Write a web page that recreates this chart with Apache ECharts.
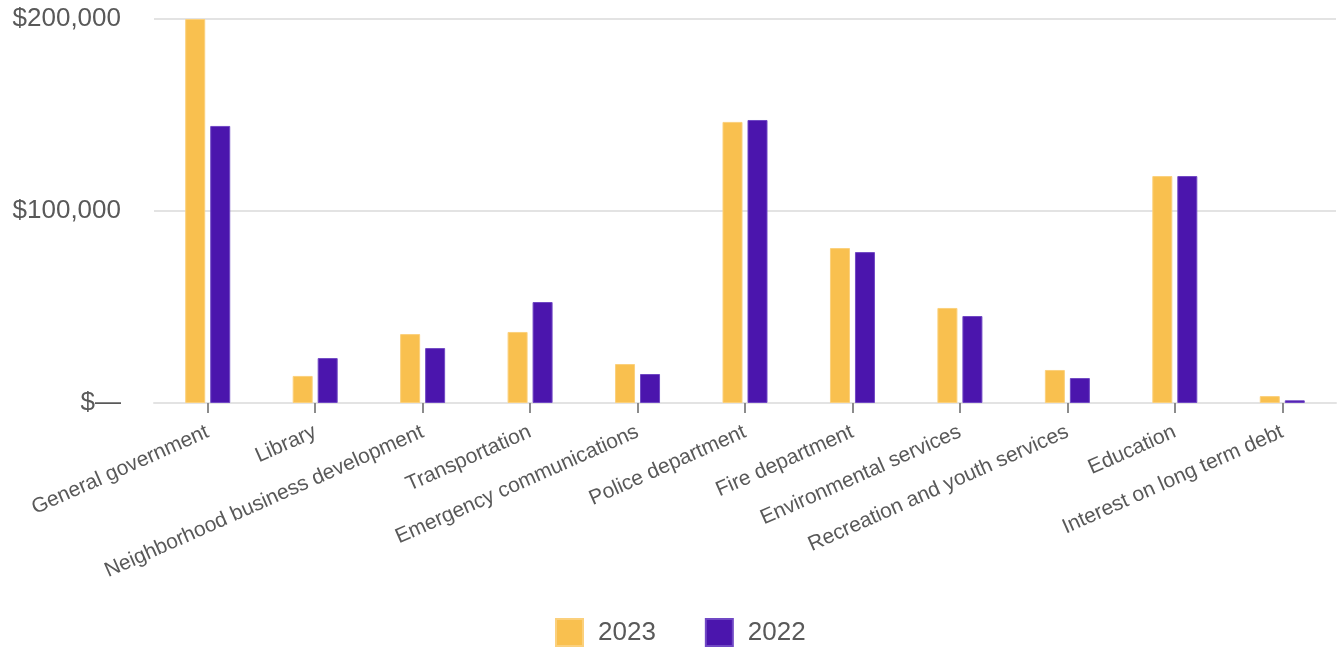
<!DOCTYPE html>
<html>
<head>
<meta charset="utf-8">
<script src="https://cdn.jsdelivr.net/npm/echarts@6/dist/echarts.min.js"></script>
<style>
  html, body { margin: 0; padding: 0; background: #ffffff; }
  #chart { width: 1342px; height: 647px; }
</style>
</head>
<body>
<div id="chart"></div>
<script>
// Expenses by function, two fiscal years
const categories = [
  'General government',
  'Library',
  'Neighborhood business development',
  'Transportation',
  'Emergency communications',
  'Police department',
  'Fire department',
  'Environmental services',
  'Recreation and youth services',
  'Education',
  'Interest on long term debt'
];
const seriesNames = ['2023', '2022'];
const values2023 = [200000, 14100, 35900, 37000, 20300, 146400, 80700, 49500, 17200, 118200, 3600];
const values2022 = [144300, 23400, 28600, 52600, 15100, 147400, 78600, 45300, 13000, 118200, 1400];
const yTicks = [0, 100000, 200000];

const FONT = '"Liberation Sans", Arial, Helvetica, sans-serif';
const TEXT = '#595959';

function money(v) {
  return v === 0 ? '$\u2014' : '$' + v.toLocaleString('en-US');
}

const chart = echarts.init(document.getElementById('chart'), null, { renderer: 'canvas' });
chart.setOption({
  animation: false,
  backgroundColor: '#ffffff',
  textStyle: { fontFamily: FONT },
  grid: { left: 154, right: 6, top: 19, bottom: 244, containLabel: false },
  legend: {
    data: seriesNames,
    left: 555,
    bottom: 0,
    padding: 0,
    itemWidth: 27,
    itemHeight: 27,
    itemGap: 49,
    icon: 'rect',
    textStyle: { fontFamily: FONT, fontSize: 26, color: TEXT, padding: [0, 0, 0, 10] }
  },
  xAxis: {
    type: 'category',
    data: categories,
    axisLine: { show: true, lineStyle: { color: '#e3e3e3', width: 2 } },
    axisTick: { show: true, alignWithLabel: true, length: 10, lineStyle: { color: '#8c8c8c', width: 2 } },
    axisLabel: {
      interval: 0,
      rotate: 24,
      margin: 28,
      fontFamily: FONT,
      fontSize: 21,
      color: TEXT
    }
  },
  yAxis: {
    type: 'value',
    min: yTicks[0],
    max: yTicks[yTicks.length - 1],
    interval: yTicks[1] - yTicks[0],
    axisLine: { show: false },
    axisTick: { show: false },
    splitLine: { show: true, lineStyle: { color: '#e3e3e3', width: 2 } },
    axisLabel: {
      margin: 33,
      fontFamily: FONT,
      fontSize: 26,
      color: TEXT,
      formatter: money
    }
  },
  series: [
    {
      name: seriesNames[0],
      type: 'bar',
      data: values2023,
      barWidth: 20,
      barGap: '25%',
      itemStyle: { color: '#F9C04F', borderColor: '#FBD07C', borderWidth: 1 }
    },
    {
      name: seriesNames[1],
      type: 'bar',
      data: values2022,
      barWidth: 20,
      barGap: '25%',
      itemStyle: { color: '#4B15AD', borderColor: '#7048C4', borderWidth: 1 }
    }
  ]
});
</script>
</body>
</html>
